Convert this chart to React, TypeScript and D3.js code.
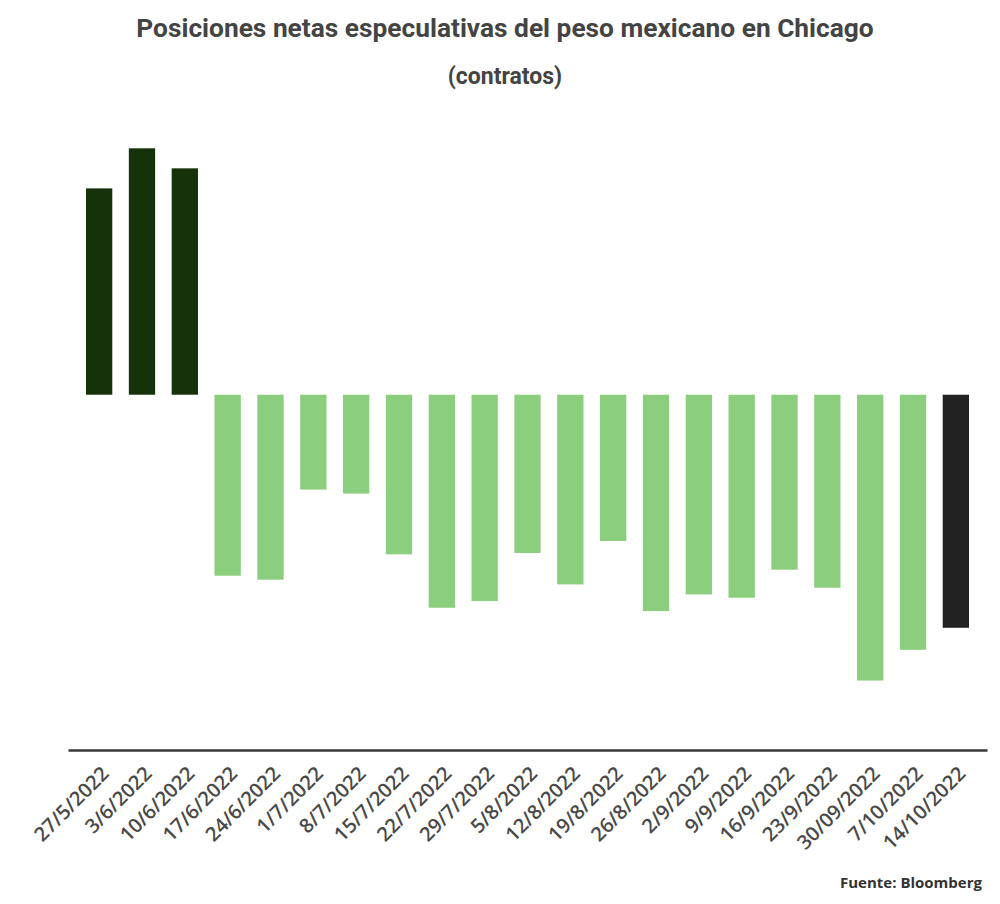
import React, { useEffect, useRef } from "react";
import * as d3 from "d3";

// Semanas (fecha del reporte CFTC)
const dates = [
  "27/5/2022", "3/6/2022", "10/6/2022", "17/6/2022", "24/6/2022", "1/7/2022",
  "8/7/2022", "15/7/2022", "22/7/2022", "29/7/2022", "5/8/2022", "12/8/2022",
  "19/8/2022", "26/8/2022", "2/9/2022", "9/9/2022", "16/9/2022", "23/9/2022",
  "30/09/2022", "7/10/2022", "14/10/2022",
];

// Posiciones netas (contratos), estimadas del gráfico
const netPositions = [
  30900, 36900, 33900, -27100, -27700, -14200,
  -14800, -23900, -31900, -30900, -23700, -28400,
  -21900, -32400, -29900, -30400, -26200, -28900,
  -42800, -38200, -34900,
];

const yDomain = [-53200, 36900];

const W = 1000;
const H = 904;

const App: React.FC = () => {
  const ref = useRef<SVGSVGElement>(null);

  useEffect(() => {
    if (!ref.current) return;
    const svg = d3.select(ref.current);
    svg.selectAll("*").remove();

    const left = 68;
    const right = 987;
    const axisY = 750;

    const x = d3
      .scaleBand<string>()
      .domain(dates)
      .range([left, right])
      .paddingInner(0.386)
      .paddingOuter(0.42);

    const y = d3.scaleLinear().domain(yDomain).range([axisY, 148.3]);

    // titulo
    svg
      .append("text")
      .attr("x", 505)
      .attr("y", 37)
      .attr("text-anchor", "middle")
      .attr("font-family", "Roboto")
      .attr("font-weight", 700)
      .attr("font-size", 26.3)
      .attr("fill", "#444")
      .text("Posiciones netas especulativas del peso mexicano en Chicago");

    svg
      .append("text")
      .attr("x", 505)
      .attr("y", 84)
      .attr("text-anchor", "middle")
      .attr("font-family", "Roboto")
      .attr("font-weight", 700)
      .attr("font-size", 23)
      .attr("fill", "#444")
      .text("(contratos)");

    const last = dates.length - 1;
    const color = (v: number, i: number) =>
      i === last ? "#222222" : v >= 0 ? "#15320b" : "#8bce7e";

    svg
      .append("g")
      .selectAll("rect")
      .data(netPositions)
      .enter()
      .append("rect")
      .attr("x", (d, i) => x(dates[i])!)
      .attr("width", x.bandwidth())
      .attr("y", (d) => y(Math.max(0, d)))
      .attr("height", (d) => Math.abs(y(d) - y(0)))
      .attr("fill", (d, i) => color(d, i));

    // eje x
    const axis = svg
      .append("g")
      .attr("transform", `translate(0,${axisY})`)
      .call(d3.axisBottom(x).tickSize(0).tickPadding(0));
    axis.select(".domain").attr("stroke", "#3a3a3a").attr("stroke-width", 2.5);
    axis
      .selectAll("text")
      .attr("font-family", "Open Sans")
      .attr("font-weight", 600)
      .attr("font-size", 20)
      .attr("fill", "#4a4a4a")
      .attr("text-anchor", "end")
      .attr("dy", null)
      .attr("y", null)
      .attr("transform", "translate(11,25) rotate(-45)");

    svg
      .append("text")
      .attr("x", 982)
      .attr("y", 888)
      .attr("text-anchor", "end")
      .attr("font-family", "Open Sans")
      .attr("font-weight", 700)
      .attr("font-size", 15)
      .attr("fill", "#333")
      .text("Fuente: Bloomberg");
  }, []);

  return (
    <svg
      ref={ref}
      width={W}
      height={H}
      style={{ display: "block", margin: "-8px", background: "#fff" }}
    />
  );
};

export default App;
